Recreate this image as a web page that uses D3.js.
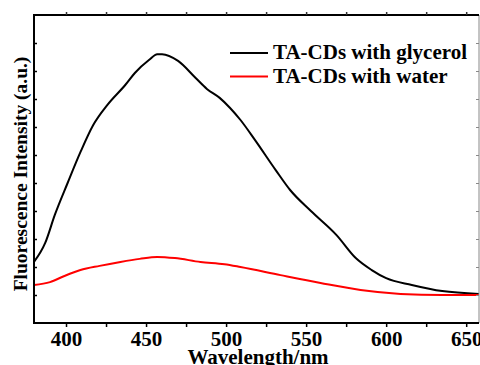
<!DOCTYPE html>
<html><head><meta charset="utf-8">
<script src="https://cdn.jsdelivr.net/npm/d3@7"></script>
<style>body{margin:0;background:#fff}svg{display:block}</style>
</head><body>
<script>
const glyWl = [380,387,393,401,409,417,426,437,443,452,457,460,470,481,488,496,502.5,509,518,531,540,553,569,581,591,600,616,635,658];
const glyI  = [2.18,2.86,3.86,5.0,6.1,7.07,7.8,8.5,8.93,9.4,9.6,9.6,9.36,8.75,8.36,8.04,7.68,7.25,6.54,5.46,4.75,4.0,3.14,2.32,1.89,1.6,1.36,1.14,1.04];
const watWl = [380,390,399,409,421,434,446,457,468,484,499,509,534,559,584,609,635,658];
const watI  = [1.36,1.46,1.68,1.89,2.04,2.18,2.29,2.36,2.32,2.18,2.1,2.0,1.71,1.43,1.18,1.04,1.0,1.0];
const xTicks = [400,450,500,550,600,650];
const seriesNames = ["TA-CDs with glycerol","TA-CDs with water"];
const seriesColors = ["#000000","#ff0000"];

const W=480,H=365, L=34, R=479, T=15, B=323;
const svg=d3.select("body").append("svg").attr("width",W).attr("height",H);
const x=d3.scaleLinear().domain([380,658]).range([L,R]);
const y=d3.scaleLinear().domain([0,11]).range([B,T]);
const font="'Liberation Serif','Times New Roman',serif";

// curves
const line=d3.line().x(d=>x(d[0])).y(d=>y(d[1])).curve(d3.curveMonotoneX);
const data=[d3.zip(glyWl,glyI), d3.zip(watWl,watI)];
svg.append("g").selectAll("path").data(data).join("path")
  .attr("d",line).attr("fill","none").attr("stroke",(d,i)=>seriesColors[i]).attr("stroke-width",2);

// frame
svg.append("line").attr("x1",R).attr("x2",R).attr("y1",T).attr("y2",B).attr("stroke","#888").attr("stroke-width",1);
svg.append("line").attr("x1",L).attr("x2",R).attr("y1",T).attr("y2",T).attr("stroke","#000").attr("stroke-width",2);

// bottom axis
const gx=svg.append("g").attr("transform",`translate(0,${B})`)
  .call(d3.axisBottom(x).tickValues(d3.range(400,660,25)).tickSize(4).tickFormat(d=>xTicks.includes(d)?d:""));
gx.select(".domain").attr("stroke-width",2).attr("d",`M${L},0H${R}`);
gx.selectAll(".tick line").attr("stroke-width",1.5);
gx.selectAll(".tick text").attr("font-family",font).attr("font-weight","bold").attr("font-size",21).attr("fill","#000").attr("y",8).attr("dy","0.71em");

// top axis ticks
const gt=svg.append("g").attr("transform",`translate(0,${T})`)
  .call(d3.axisTop(x).tickValues(d3.range(400,660,25)).tickSize(3).tickFormat(""));
gt.select(".domain").remove();
gt.selectAll(".tick line").attr("stroke-width",1.5).attr("stroke","#333");

// left axis
const gy=svg.append("g").attr("transform",`translate(${L},0)`)
  .call(d3.axisLeft(y).tickValues(d3.range(1,11)).tickSize(-3).tickFormat(""));
gy.select(".domain").attr("stroke-width",2).attr("d",`M0,${T-1}V${B+1}`);
gy.selectAll(".tick line").attr("stroke-width",1.5);

// right axis ticks
const gr=svg.append("g").attr("transform",`translate(${R},0)`)
  .call(d3.axisRight(y).tickValues(d3.range(1,11)).tickSize(-3).tickFormat(""));
gr.select(".domain").remove();
gr.selectAll(".tick line").attr("stroke","#888").attr("stroke-width",1);

// axis titles
svg.append("text").attr("x",258).attr("y",364).attr("text-anchor","middle")
  .attr("font-family",font).attr("font-weight","bold").attr("font-size",21).text("Wavelength/nm");
svg.append("text").attr("transform","translate(27,174) rotate(-90)").attr("text-anchor","middle")
  .attr("font-family",font).attr("font-weight","bold").attr("font-size",19.5).text("Fluorescence Intensity (a.u.)");

// legend
const lg=svg.append("g").selectAll("g").data(seriesNames).join("g")
  .attr("transform",(d,i)=>`translate(230,${53+i*23.5})`);
lg.append("line").attr("x1",0).attr("x2",38).attr("stroke",(d,i)=>seriesColors[i]).attr("stroke-width",2);
lg.append("text").attr("x",43).attr("y",6).attr("font-family",font).attr("font-weight","bold").attr("font-size",21).text(d=>d);
</script>
</body></html>
